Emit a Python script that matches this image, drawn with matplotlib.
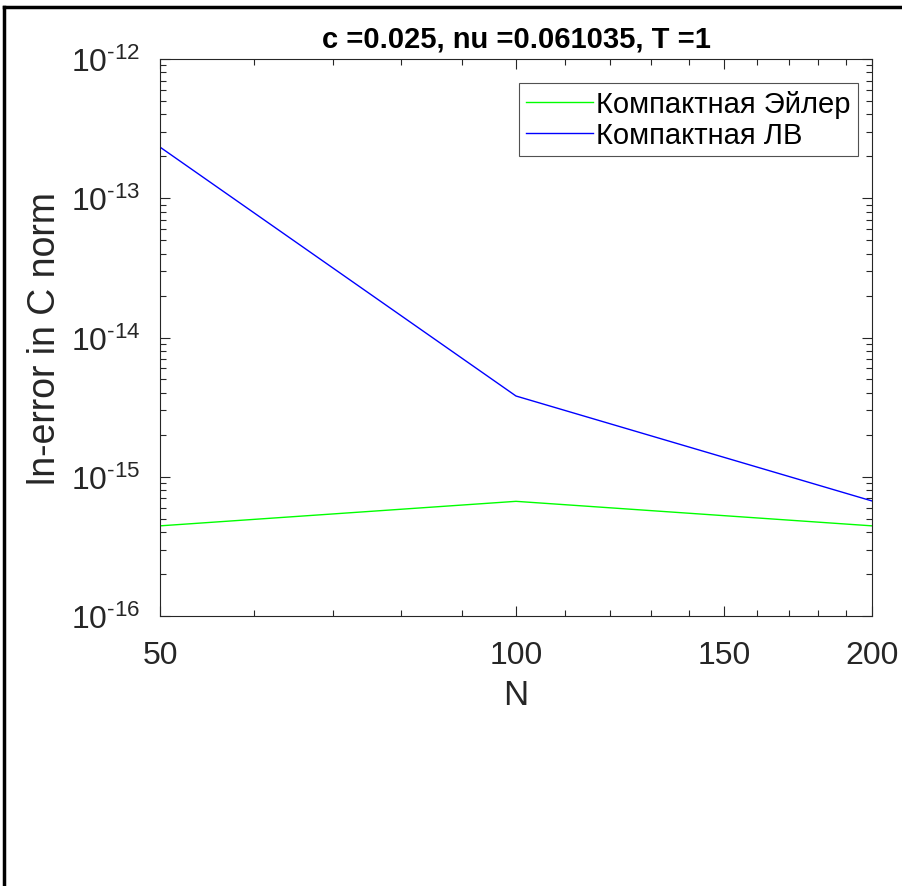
import matplotlib
matplotlib.use("Agg")
import matplotlib.pyplot as plt
from matplotlib.lines import Line2D
from matplotlib.ticker import FixedLocator, NullFormatter, FuncFormatter
import numpy as np

N = [50, 100, 200]
euler_err = [4.44e-16, 6.66e-16, 4.44e-16]
lv_err = [2.33e-13, 3.8e-15, 6.7e-16]
x_ticks = [50, 100, 150, 200]
x_minor = [60, 70, 80, 90, 110, 120, 130, 140, 160, 170, 180, 190]
y_ticks = [1e-16, 1e-15, 1e-14, 1e-13, 1e-12]
series_labels = ["Компактная Эйлер", "Компактная ЛВ"]

plt.rcParams.update({
    "font.family": ["Liberation Sans", "DejaVu Sans"],
    "mathtext.fontset": "custom",
    "mathtext.rm": "Liberation Sans",
    "mathtext.it": "Liberation Sans:italic",
    "mathtext.bf": "Liberation Sans:bold",
})

AX_COLOR = "#262626"

fig = plt.figure(figsize=(9.02, 8.87), dpi=100)
ax = fig.add_axes([160 / 902, 1 - 617 / 887, 712 / 902, 557 / 887])

ax.plot(N, euler_err, color="#00ff00", lw=1.0, label=series_labels[0])
ax.plot(N, lv_err, color="#0000ff", lw=1.0, label=series_labels[1])

ax.set_xscale("log")
ax.set_yscale("log")
ax.set_xlim(50, 200)
ax.set_ylim(1e-16, 1e-12)

ax.xaxis.set_major_locator(FixedLocator(x_ticks))
ax.set_xticklabels([str(v) for v in x_ticks])
ax.xaxis.set_minor_locator(FixedLocator(x_minor))
ax.xaxis.set_minor_formatter(NullFormatter())

y_minor = [m * t for t in y_ticks[:-1] for m in range(2, 10)]
ax.yaxis.set_major_locator(FixedLocator(y_ticks))
ax.yaxis.set_minor_locator(FixedLocator(y_minor))
ax.yaxis.set_minor_formatter(NullFormatter())


def pow10(v, pos):
    k = int(round(np.log10(v)))
    sign = "-" if k < 0 else ""
    return r"$10^{\text{%s%d}}$" % (sign, abs(k))


ax.yaxis.set_major_formatter(FuncFormatter(pow10))

ax.tick_params(which="both", direction="in", top=True, right=True, colors=AX_COLOR,
               width=0.8)
ax.tick_params(which="major", length=7, labelsize=23)
ax.tick_params(axis="x", which="major", pad=17)
ax.tick_params(axis="y", which="major", pad=14)
ax.tick_params(which="minor", length=4)
for s in ax.spines.values():
    s.set_color(AX_COLOR)
    s.set_linewidth(0.8)

ax.set_xlabel("N", fontsize=25, color=AX_COLOR, labelpad=6)
ax.set_ylabel("ln-error in C norm", fontsize=27, color=AX_COLOR, labelpad=6)
ax.set_title("c =0.025, nu =0.061035, T =1", fontsize=21, fontweight="bold",
             pad=9)

leg = ax.legend(loc="upper right", bbox_to_anchor=(0.980, 0.957), fontsize=21,
                frameon=True, fancybox=False, edgecolor=AX_COLOR, handlelength=2.3,
                handletextpad=0.1, borderpad=0.25, labelspacing=0.1, borderaxespad=0)
leg.get_frame().set_linewidth(0.8)

# partial outer frame (top and left edges)
fig.add_artist(Line2D([4 / 902, 4 / 902], [0, 1 - 8 / 887], transform=fig.transFigure,
                      color="black", lw=2.5))
fig.add_artist(Line2D([4 / 902, 1], [1 - 8 / 887, 1 - 8 / 887], transform=fig.transFigure,
                      color="black", lw=2.5))

fig.savefig("out.png", dpi=100, facecolor="white")
